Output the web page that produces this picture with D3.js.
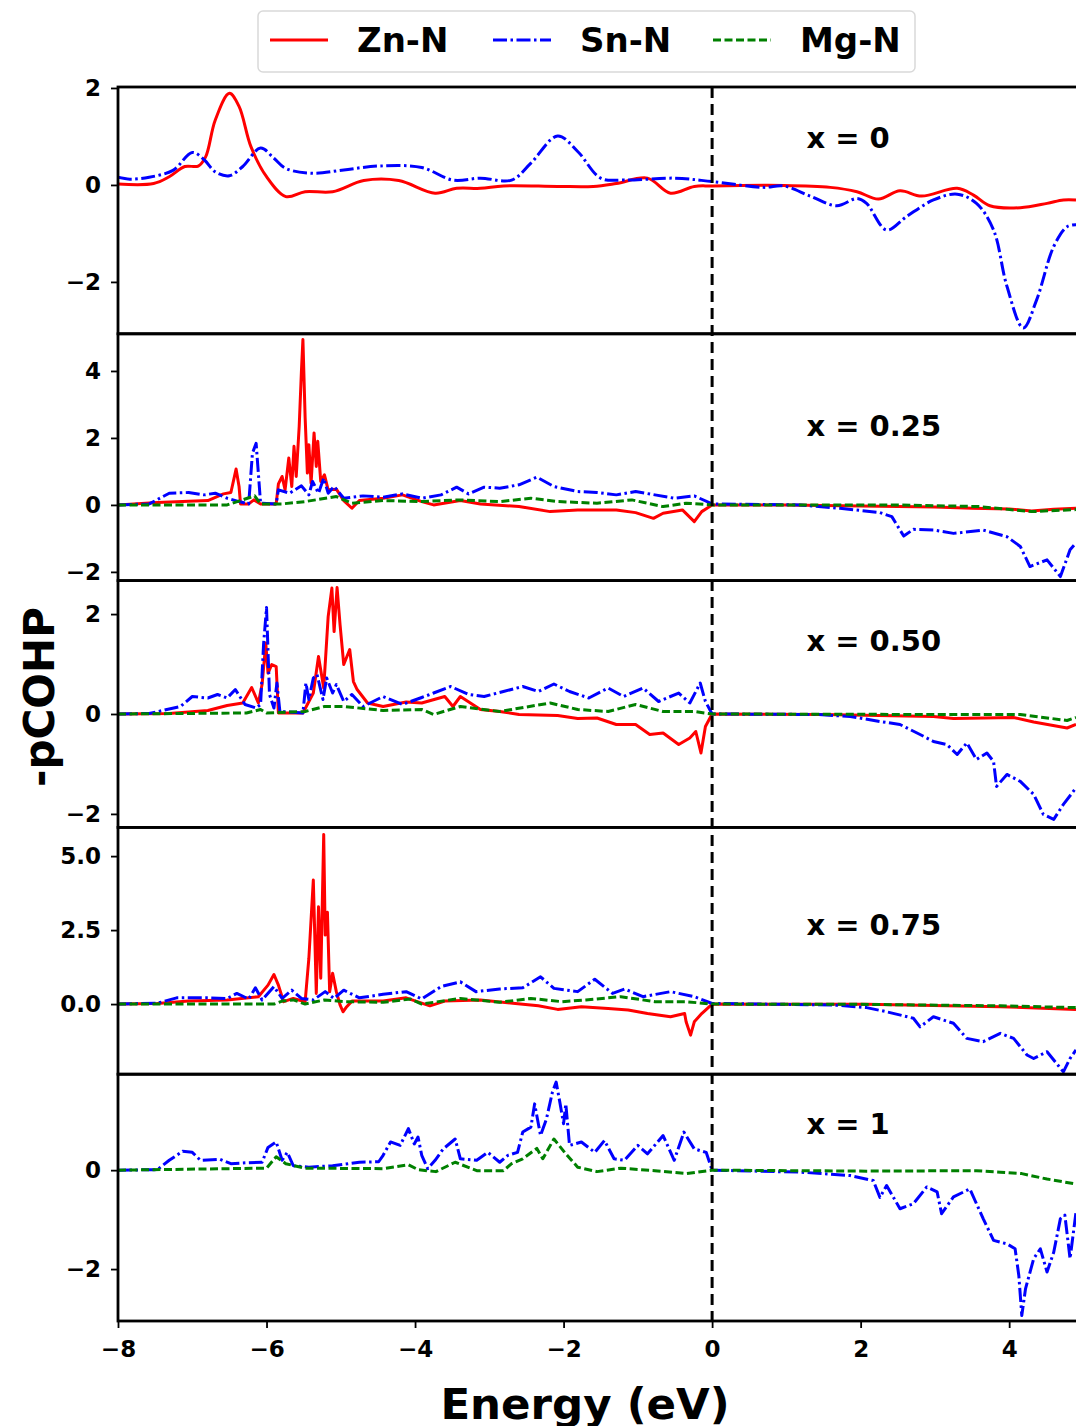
<!DOCTYPE html>
<html>
<head>
<meta charset="utf-8">
<script src="https://cdn.jsdelivr.net/npm/d3@7"></script>
<style>
  body { margin: 0; background: #fff; }
  svg { display: block; font-family: "DejaVu Sans", sans-serif; font-weight: bold; }
</style>
</head>
<body>
<div id="chart"></div>
<script>
// -pCOHP curves, [energy (eV), value]
const znN_x0 = [[-8.0,0.02],[-7.52,0.03],[-7.31,0.17],[-7.10,0.38],[-6.92,0.39],[-6.82,0.58],[-6.69,1.34],[-6.50,1.89],[-6.37,1.62],[-6.21,0.79],[-6.0,0.17],[-5.74,-0.24],[-5.48,-0.14],[-5.11,-0.14],[-4.69,0.09],[-4.22,0.09],[-3.73,-0.17],[-3.44,-0.07],[-3.12,-0.07],[-2.81,-0.02],[-2.08,-0.03],[-1.60,-0.03],[-1.29,0.03],[-0.87,0.14],[-0.56,-0.17],[-0.24,-0.03],[0,-0.02],[0.96,-0.01],[1.59,-0.05],[1.95,-0.14],[2.24,-0.29],[2.53,-0.12],[2.82,-0.23],[3.30,-0.07],[3.52,-0.21],[3.74,-0.43],[4.15,-0.47],[4.51,-0.38],[4.73,-0.31],[4.90,-0.31]];
const snN_x0 = [[-8.0,0.16],[-7.84,0.12],[-7.58,0.16],[-7.26,0.30],[-7.0,0.67],[-6.84,0.52],[-6.69,0.27],[-6.50,0.19],[-6.32,0.38],[-6.08,0.76],[-5.90,0.55],[-5.74,0.34],[-5.38,0.24],[-4.96,0.31],[-4.49,0.39],[-3.91,0.36],[-3.49,0.10],[-3.12,0.14],[-2.70,0.10],[-2.44,0.45],[-2.08,1.01],[-1.81,0.69],[-1.50,0.14],[-1.18,0.10],[-0.50,0.14],[0,0.07],[0.69,-0.05],[0.96,-0.02],[1.32,-0.23],[1.68,-0.43],[1.95,-0.28],[2.08,-0.38],[2.35,-0.93],[2.62,-0.65],[2.98,-0.31],[3.30,-0.19],[3.56,-0.38],[3.79,-0.93],[3.97,-2.09],[4.19,-2.95],[4.37,-2.37],[4.60,-1.27],[4.78,-0.86],[4.90,-0.82]];

const znN_x25 = [[-8.0,0],[-7.47,0.07],[-6.79,0.13],[-6.58,0.33],[-6.48,0.37],[-6.41,1.07],[-6.37,0.55],[-6.35,0.03],[-6.24,0.03],[-6.17,0.15],[-6.08,0.03],[-5.87,0.03],[-5.84,0.63],[-5.79,0.85],[-5.75,0.45],[-5.70,1.40],[-5.66,0.55],[-5.63,1.75],[-5.60,0.85],[-5.56,2.35],[-5.53,4.0],[-5.51,4.94],[-5.48,2.60],[-5.45,0.95],[-5.43,1.80],[-5.40,0.65],[-5.36,2.15],[-5.33,1.15],[-5.31,1.90],[-5.27,0.70],[-5.22,0.90],[-5.17,0.45],[-5.06,0.47],[-4.96,0.13],[-4.85,-0.10],[-4.75,0.13],[-4.43,0.20],[-4.17,0.30],[-3.91,0.10],[-3.75,0],[-3.39,0.13],[-3.12,0.03],[-2.60,-0.05],[-2.18,-0.20],[-1.81,-0.15],[-1.29,-0.15],[-1.03,-0.23],[-0.79,-0.40],[-0.66,-0.25],[-0.40,-0.15],[-0.24,-0.50],[-0.14,-0.20],[0,0],[1.0,0],[2.0,-0.03],[3.0,-0.06],[3.5,-0.10],[4.0,-0.12],[4.3,-0.18],[4.6,-0.13],[4.9,-0.10]];
const snN_x25 = [[-8.0,0],[-7.58,0.03],[-7.31,0.35],[-7.05,0.37],[-6.84,0.30],[-6.69,0.35],[-6.53,0.20],[-6.37,0.10],[-6.24,0.03],[-6.19,1.54],[-6.14,1.84],[-6.08,0.05],[-5.87,0.03],[-5.84,0.45],[-5.69,0.35],[-5.53,0.57],[-5.43,0.30],[-5.38,0.70],[-5.30,0.35],[-5.23,0.80],[-5.17,0.35],[-5.09,0.55],[-4.96,0.20],[-4.70,0.27],[-4.43,0.23],[-4.17,0.33],[-3.91,0.20],[-3.65,0.30],[-3.44,0.53],[-3.28,0.33],[-3.07,0.53],[-2.86,0.50],[-2.60,0.60],[-2.36,0.83],[-2.13,0.55],[-1.81,0.40],[-1.55,0.37],[-1.29,0.30],[-1.03,0.40],[-0.77,0.30],[-0.51,0.20],[-0.24,0.27],[0,0.03],[1.19,0],[1.72,-0.10],[2.26,-0.23],[2.42,-0.35],[2.58,-0.93],[2.71,-0.73],[2.98,-0.75],[3.25,-0.85],[3.65,-0.75],[3.97,-0.95],[4.15,-1.24],[4.28,-1.84],[4.51,-1.64],[4.69,-2.14],[4.82,-1.34],[4.90,-1.14]];
const mgN_x25 = [[-8.0,0],[-6.53,0],[-6.16,0.27],[-6.08,0.03],[-5.79,0.03],[-5.48,0.10],[-5.06,0.25],[-4.85,0.05],[-4.43,0.13],[-3.91,0.10],[-3.39,0.15],[-2.86,0.10],[-2.44,0.20],[-2.08,0.10],[-1.55,0.05],[-1.08,0.15],[-0.66,-0.05],[-0.35,0.05],[0,0],[1.0,0],[2.5,0],[3.6,-0.05],[4.3,-0.20],[4.9,-0.14]];

const znN_x50 = [[-8.0,0],[-7.31,0.01],[-6.79,0.07],[-6.53,0.17],[-6.32,0.22],[-6.20,0.53],[-6.11,0.22],[-6.06,0.59],[-6.01,1.42],[-5.98,0.82],[-5.93,0.99],[-5.87,0.95],[-5.84,0.02],[-5.51,0.02],[-5.37,0.42],[-5.30,1.15],[-5.23,0.52],[-5.17,1.95],[-5.12,2.52],[-5.09,1.65],[-5.05,2.53],[-5.01,1.79],[-4.96,0.99],[-4.88,1.29],[-4.83,0.65],[-4.78,0.49],[-4.64,0.22],[-4.43,0.15],[-4.12,0.24],[-3.91,0.22],[-3.60,0.35],[-3.49,0.15],[-3.39,0.35],[-3.12,0.09],[-2.86,0.05],[-2.60,-0.01],[-2.08,-0.03],[-1.81,-0.09],[-1.55,-0.08],[-1.29,-0.21],[-1.03,-0.21],[-0.84,-0.41],[-0.66,-0.38],[-0.45,-0.61],[-0.30,-0.48],[-0.22,-0.35],[-0.15,-0.78],[-0.09,-0.25],[0,0],[1.5,-0.01],[2.98,-0.05],[3.25,-0.09],[4.06,-0.07],[4.33,-0.16],[4.78,-0.28],[4.90,-0.21]];
const snN_x50 = [[-8.0,0],[-7.58,0.01],[-7.16,0.15],[-7.0,0.35],[-6.79,0.32],[-6.66,0.39],[-6.53,0.32],[-6.42,0.49],[-6.29,0.19],[-6.14,0.12],[-6.08,0.19],[-6.04,1.39],[-6.00,2.13],[-5.96,0.39],[-5.90,0.12],[-5.86,0.62],[-5.82,0.05],[-5.51,0.02],[-5.47,0.62],[-5.43,0.29],[-5.37,0.72],[-5.32,0.79],[-5.24,0.29],[-5.19,0.72],[-5.11,0.42],[-5.06,0.59],[-4.96,0.25],[-4.85,0.39],[-4.70,0.15],[-4.43,0.35],[-4.17,0.19],[-3.91,0.33],[-3.75,0.42],[-3.52,0.55],[-3.28,0.39],[-3.07,0.35],[-2.81,0.45],[-2.55,0.55],[-2.34,0.45],[-2.13,0.60],[-1.92,0.45],[-1.66,0.32],[-1.40,0.52],[-1.19,0.35],[-0.93,0.52],[-0.72,0.25],[-0.45,0.42],[-0.30,0.22],[-0.16,0.62],[-0.09,0.25],[0,0],[1.41,-0.01],[1.86,-0.05],[2.26,-0.15],[2.53,-0.21],[2.80,-0.41],[2.98,-0.55],[3.16,-0.61],[3.30,-0.81],[3.43,-0.58],[3.56,-0.91],[3.70,-0.78],[3.79,-0.95],[3.83,-1.45],[3.97,-1.21],[4.15,-1.35],[4.33,-1.61],[4.46,-2.01],[4.60,-2.11],[4.73,-1.81],[4.90,-1.48]];
const mgN_x50 = [[-8.0,0],[-6.27,0.02],[-6.08,0.09],[-6.0,0.02],[-5.48,0.05],[-5.22,0.15],[-4.96,0.15],[-4.43,0.07],[-3.91,0.09],[-3.75,-0.01],[-3.39,0.15],[-2.86,0.05],[-2.18,0.22],[-1.81,0.09],[-1.40,0.05],[-1.03,0.19],[-0.66,0.05],[-0.24,0.05],[0,0],[2.98,-0.01],[4.15,-0.01],[4.78,-0.13],[4.90,-0.07]];

const znN_x75 = [[-8.0,0],[-7.47,0.02],[-7.05,0.10],[-6.53,0.14],[-6.11,0.25],[-5.98,0.64],[-5.90,1.0],[-5.84,0.64],[-5.77,0.08],[-5.64,0.19],[-5.48,0.08],[-5.43,1.54],[-5.37,4.19],[-5.33,0.36],[-5.30,3.29],[-5.27,0.87],[-5.23,5.73],[-5.21,2.33],[-5.18,3.10],[-5.15,0.42],[-5.11,1.04],[-5.06,0.42],[-5.01,-0.03],[-4.97,-0.26],[-4.92,-0.09],[-4.85,0.10],[-4.43,0.10],[-4.12,0.21],[-3.80,-0.06],[-3.60,0.10],[-3.12,0.14],[-2.65,0.02],[-2.34,-0.06],[-2.08,-0.18],[-1.76,-0.09],[-1.40,-0.15],[-1.13,-0.20],[-0.87,-0.32],[-0.56,-0.43],[-0.37,-0.32],[-0.35,-0.6],[-0.29,-1.05],[-0.24,-0.60],[-0.14,-0.32],[0,0],[2.08,-0.01],[3.88,-0.09],[4.90,-0.18]];
const snN_x75 = [[-8.0,0],[-7.47,0.03],[-7.21,0.21],[-6.79,0.21],[-6.53,0.19],[-6.40,0.36],[-6.24,0.17],[-6.15,0.55],[-6.06,0.14],[-5.90,0.59],[-5.79,0.19],[-5.66,0.47],[-5.53,0.19],[-5.37,0.14],[-5.21,0.42],[-5.09,0.19],[-4.96,0.47],[-4.75,0.21],[-4.43,0.33],[-4.12,0.42],[-3.91,0.17],[-3.65,0.59],[-3.39,0.75],[-3.18,0.42],[-2.86,0.51],[-2.55,0.55],[-2.31,0.92],[-2.13,0.53],[-1.81,0.42],[-1.58,0.84],[-1.34,0.36],[-1.18,0.51],[-0.93,0.25],[-0.56,0.42],[-0.24,0.25],[0,0.02],[1.63,-0.03],[2.08,-0.12],[2.35,-0.26],[2.71,-0.48],[2.80,-0.77],[2.98,-0.43],[3.25,-0.65],[3.43,-1.16],[3.65,-1.27],[3.88,-0.99],[4.06,-1.16],[4.24,-1.72],[4.33,-1.84],[4.51,-1.61],[4.73,-2.29],[4.82,-1.84],[4.90,-1.55]];
const mgN_x75 = [[-8.0,0],[-5.90,0],[-5.79,0.10],[-5.64,0.14],[-5.48,0],[-5.22,0.14],[-4.96,0.08],[-4.43,0.06],[-4.06,0.17],[-3.91,0],[-3.39,0.19],[-2.86,0.06],[-2.44,0.19],[-2.02,0.08],[-1.70,0.14],[-1.23,0.25],[-0.77,0.08],[-0.35,0.08],[0,0],[2.0,-0.01],[3.88,-0.06],[4.90,-0.12]];

const snN_x1 = [[-8.0,0],[-7.47,0.01],[-7.31,0.20],[-7.13,0.38],[-7.0,0.36],[-6.89,0.20],[-6.63,0.22],[-6.48,0.13],[-6.27,0.15],[-6.06,0.16],[-5.98,0.46],[-5.87,0.57],[-5.79,0.20],[-5.72,0.36],[-5.64,0.09],[-5.43,0.06],[-5.11,0.09],[-4.75,0.16],[-4.49,0.17],[-4.43,0.30],[-4.33,0.57],[-4.20,0.50],[-4.09,0.84],[-4.01,0.53],[-3.96,0.67],[-3.91,0.30],[-3.83,0.03],[-3.73,0.20],[-3.62,0.43],[-3.46,0.63],[-3.39,0.23],[-3.17,0.20],[-3.02,0.36],[-2.86,0.16],[-2.75,0.30],[-2.62,0.36],[-2.55,0.77],[-2.44,0.87],[-2.39,1.34],[-2.31,0.70],[-2.23,1.04],[-2.15,1.58],[-2.10,1.78],[-2.05,1.37],[-2.00,0.94],[-1.97,1.34],[-1.92,0.50],[-1.76,0.57],[-1.58,0.36],[-1.45,0.60],[-1.32,0.23],[-1.18,0.20],[-1.00,0.50],[-0.87,0.33],[-0.66,0.70],[-0.51,0.20],[-0.38,0.77],[-0.24,0.43],[-0.08,0.36],[0,0],[1.19,-0.04],[1.86,-0.11],[2.17,-0.21],[2.26,-0.55],[2.35,-0.31],[2.53,-0.78],[2.71,-0.68],[2.89,-0.34],[3.03,-0.44],[3.09,-0.88],[3.25,-0.54],[3.47,-0.38],[3.65,-0.98],[3.79,-1.42],[3.97,-1.49],[4.08,-1.59],[4.13,-2.13],[4.17,-2.94],[4.22,-2.40],[4.33,-1.79],[4.42,-1.59],[4.51,-2.06],[4.60,-1.66],[4.69,-0.98],[4.75,-0.91],[4.82,-1.79],[4.90,-0.85]];
const mgN_x1 = [[-8.0,0],[-6.0,0.04],[-5.87,0.27],[-5.74,0.13],[-5.48,0.04],[-4.43,0.03],[-4.09,0.11],[-3.96,0.01],[-3.72,-0.03],[-3.46,0.16],[-3.17,-0.01],[-2.81,-0.01],[-2.70,0.13],[-2.55,0.23],[-2.36,0.44],[-2.28,0.23],[-2.13,0.63],[-1.97,0.33],[-1.81,0.06],[-1.55,-0.03],[-1.23,0.04],[-0.77,-0.01],[-0.35,-0.07],[0,0],[2.08,-0.02],[3.56,-0.01],[3.88,-0.04],[4.17,-0.07],[4.51,-0.18],[4.90,-0.28]];

const panelLabels = ["x = 0", "x = 0.25", "x = 0.50", "x = 0.75", "x = 1"];
const yTicks = [[-2, 0, 2], [-2, 0, 2, 4], [-2, 0, 2], [0, 2.5, 5], [-2, 0]];
const xTicks = [-8, -6, -4, -2, 0, 2, 4];
const legendNames = ["Zn-N", "Sn-N", "Mg-N"];

const seriesStyle = {
    zn: { color: "#ff0000", dash: null },
    sn: { color: "#0000ff", dash: "14,3.5,2.5,3.5" },
    mg: { color: "#008000", dash: "8,3.5" }
};

const panels = [
    { domain: [-3.07, 2.02], label: panelLabels[0], ticks: yTicks[0], fmt: d3.format("d"), smooth: true, labelY: 50,
      series: [["zn", znN_x0], ["sn", snN_x0]] },
    { domain: [-2.26, 5.11], label: panelLabels[1], ticks: yTicks[1], fmt: d3.format("d"), labelY: 92,
      series: [["zn", znN_x25], ["sn", snN_x25], ["mg", mgN_x25]] },
    { domain: [-2.27, 2.67], label: panelLabels[2], ticks: yTicks[2], fmt: d3.format("d"), labelY: 60,
      series: [["zn", znN_x50], ["sn", snN_x50], ["mg", mgN_x50]] },
    { domain: [-2.37, 5.97], label: panelLabels[3], ticks: yTicks[3], fmt: d3.format(".1f"), labelY: 97,
      series: [["zn", znN_x75], ["sn", snN_x75], ["mg", mgN_x75]] },
    { domain: [-3.05, 1.94], label: panelLabels[4], ticks: yTicks[4], fmt: d3.format("d"), labelY: 49,
      series: [["sn", snN_x1], ["mg", mgN_x1]] }
];

const width = 1076, height = 1426;
const left = 118, right = 1076, top0 = 87, panelH = 246.8;
const tickFont = 23;

const svg = d3.select("#chart").append("svg")
    .attr("width", width)
    .attr("height", height);

const x = d3.scaleLinear().domain([-8, 4.9]).range([left, right]);

svg.append("defs").append("clipPath").attr("id", "clip")
    .append("rect").attr("x", left).attr("y", 0).attr("width", right - left).attr("height", height);

panels.forEach((p, i) => {
    const y0 = top0 + i * panelH;
    const y = d3.scaleLinear().domain(p.domain).range([y0 + panelH, y0]);
    const g = svg.append("g");

    const line = d3.line()
        .x(d => x(d[0]))
        .y(d => y(d[1]))
        .curve(p.smooth ? d3.curveCatmullRom.alpha(0.5) : d3.curveLinear);

    const lines = g.append("g").attr("clip-path", "url(#clip)");
    p.series.forEach(([key, data]) => {
        lines.append("path")
            .datum(data)
            .attr("fill", "none")
            .attr("stroke", seriesStyle[key].color)
            .attr("stroke-width", 3)
            .attr("stroke-linejoin", "round")
            .attr("stroke-dasharray", seriesStyle[key].dash)
            .attr("d", line);
    });

    // y axis
    const yAxis = g.append("g")
        .attr("transform", `translate(${left},0)`)
        .call(d3.axisLeft(y).tickValues(p.ticks).tickFormat(d => p.fmt(d).replace("-", "\u2212")).tickSize(7).tickPadding(10));
    yAxis.select(".domain").remove();
    yAxis.selectAll("line").attr("stroke", "#000").attr("stroke-width", 1.8);
    yAxis.selectAll("text").attr("font-size", tickFont).attr("font-family", "DejaVu Sans").attr("font-weight", "bold").attr("fill", "#000");

    // panel frame
    g.append("rect")
        .attr("x", left).attr("y", y0)
        .attr("width", right - left + 10).attr("height", panelH)
        .attr("fill", "none").attr("stroke", "#000").attr("stroke-width", 2.8);

    g.append("text")
        .attr("x", x(1.27)).attr("y", y0 + p.labelY + 10.5)
        .attr("font-size", 29)
        .text(p.label);
});

// Fermi level
svg.append("line")
    .attr("x1", x(0)).attr("x2", x(0))
    .attr("y1", top0).attr("y2", top0 + 5 * panelH)
    .attr("stroke", "#000").attr("stroke-width", 3)
    .attr("stroke-dasharray", "11,6");

// x axis on bottom panel
const xAxis = svg.append("g")
    .attr("transform", `translate(0,${top0 + 5 * panelH})`)
    .call(d3.axisBottom(x).tickValues(xTicks).tickFormat(d => String(d).replace("-", "\u2212")).tickSize(7).tickPadding(13));
xAxis.select(".domain").remove();
xAxis.selectAll("line").attr("stroke", "#000").attr("stroke-width", 1.8);
xAxis.selectAll("text").attr("font-size", tickFont).attr("font-family", "DejaVu Sans").attr("font-weight", "bold").attr("fill", "#000");

svg.append("text")
    .attr("x", 585).attr("y", 1419)
    .attr("text-anchor", "middle")
    .attr("font-size", 43.5)
    .text("Energy (eV)");

svg.append("text")
    .attr("transform", "translate(54,697) rotate(-90)")
    .attr("text-anchor", "middle")
    .attr("font-size", 42)
    .text("-pCOHP");

// legend
const legend = svg.append("g");
legend.append("rect")
    .attr("x", 258).attr("y", 11).attr("width", 657).attr("height", 61)
    .attr("rx", 5).attr("fill", "#fff").attr("stroke", "#d9d9d9").attr("stroke-width", 1.5);
const legendKeys = ["zn", "sn", "mg"];
const legendX = [270, 493, 713];
legendKeys.forEach((k, i) => {
    legend.append("line")
        .attr("x1", legendX[i]).attr("x2", legendX[i] + 58)
        .attr("y1", 40).attr("y2", 40)
        .attr("stroke", seriesStyle[k].color).attr("stroke-width", 3)
        .attr("stroke-dasharray", seriesStyle[k].dash);
    legend.append("text")
        .attr("x", legendX[i] + 87).attr("y", 52)
        .attr("font-size", 34)
        .text(legendNames[i]);
});
</script>
</body>
</html>
